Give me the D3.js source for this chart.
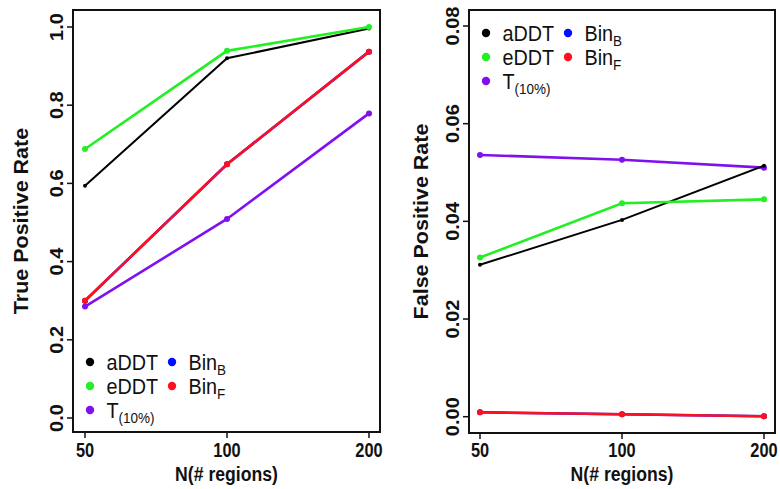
<!DOCTYPE html>
<html><head><meta charset="utf-8">
<script src="https://cdn.jsdelivr.net/npm/d3@7"></script>
<style>body{margin:0;background:#fff}text{font-family:"Liberation Sans",Arial,sans-serif;fill:#111}</style>
</head><body><svg id="c" width="780" height="489"></svg>
<script>
const categories = ["50","100","200"];
const seriesNames = ["aDDT","eDDT","T(10%)","BinB","BinF"];
const colors = {"aDDT":"#000000","eDDT":"#22f022","T(10%)":"#8010f0","BinB":"#0010ff","BinF":"#ff1020"};
// True positive rate
const tprADDT = [0.594, 0.920, 0.996];
const tprEDDT = [0.688, 0.939, 1.000];
const tprT10  = [0.285, 0.509, 0.779];
const tprBinB = [0.300, 0.649, 0.937];
const tprBinF = [0.300, 0.649, 0.937];
// False positive rate
const fprADDT = [0.0311, 0.0403, 0.0514];
const fprEDDT = [0.0326, 0.0437, 0.0445];
const fprT10  = [0.0536, 0.0526, 0.0510];
const fprBinB = [0.0009, 0.0005, 0.0001];
const fprBinF = [0.0009, 0.0005, 0.0001];
const tprTicks = [0, 0.2, 0.4, 0.6, 0.8, 1.0];
const fprTicks = [0, 0.02, 0.04, 0.06, 0.08];

const svg = d3.select("#c");
const SX = 0.84;

function panel(cfg){
  const g = svg.append("g");
  const x = d3.scalePoint().domain(categories).range([cfg.x0, cfg.x1]);
  const y = d3.scaleLinear().domain(cfg.ydom).range([cfg.y0, cfg.y1]);
  // box
  g.append("rect").attr("x",cfg.bx0).attr("y",cfg.by0).attr("width",cfg.bx1-cfg.bx0).attr("height",cfg.by1-cfg.by0)
    .attr("fill","none").attr("stroke","#111").attr("stroke-width",2);
  // y ticks
  cfg.yticks.forEach(t=>{
    g.append("line").attr("x1",cfg.bx0).attr("x2",cfg.bx0-6).attr("y1",y(t)).attr("y2",y(t)).attr("stroke","#111").attr("stroke-width",1.5);
    g.append("text").attr("transform",`translate(${cfg.bx0-10},${y(t)}) rotate(-90) scale(1,0.92)`)
      .attr("text-anchor","middle").attr("font-size",20).attr("font-weight","bold").text(cfg.fmt(t));
  });
  // x ticks
  categories.forEach(c=>{
    g.append("line").attr("x1",x(c)).attr("x2",x(c)).attr("y1",cfg.by1).attr("y2",cfg.by1+6).attr("stroke","#111").attr("stroke-width",1.5);
    g.append("text").attr("transform",`translate(${x(c)},457) scale(${SX},1)`)
      .attr("text-anchor","middle").attr("font-size",19.5).attr("font-weight","bold").text(c);
  });
  // axis titles
  g.append("text").attr("transform",`translate(${(cfg.bx0+cfg.bx1)/2},481) scale(${SX},1)`)
    .attr("text-anchor","middle").attr("font-size",21).attr("font-weight","bold").text("N(# regions)");
  g.append("text").attr("transform",`translate(${cfg.titleX},${(cfg.by0+cfg.by1)/2}) rotate(-90) scale(1,0.9)`)
    .attr("text-anchor","middle").attr("font-size",21.5).attr("font-weight","bold").text(cfg.ytitle);
  // series
  const line = d3.line().x((d,i)=>x(categories[i])).y(d=>y(d));
  cfg.series.forEach(s=>{
    const thin = s.name==="aDDT";
    g.append("path").datum(s.values).attr("d",line).attr("fill","none")
      .attr("stroke",colors[s.name]).attr("stroke-width",thin?2:2.6);
    g.selectAll(null).data(s.values).join("circle")
      .attr("cx",(d,i)=>x(categories[i])).attr("cy",d=>y(d)).attr("r",thin?2:3).attr("fill",colors[s.name]);
  });
  // legend
  const L = cfg.legend;
  const items = [
    {name:"aDDT",col:0,row:0,main:"aDDT",sub:""},
    {name:"eDDT",col:0,row:1,main:"eDDT",sub:""},
    {name:"T(10%)",col:0,row:2,main:"T",sub:"(10%)"},
    {name:"BinB",col:1,row:0,main:"Bin",sub:"B"},
    {name:"BinF",col:1,row:1,main:"Bin",sub:"F"}
  ];
  items.forEach(it=>{
    const dx = L.x + it.col*82, dy = L.y + it.row*24;
    g.append("circle").attr("cx",dx).attr("cy",dy).attr("r",4.2).attr("fill",colors[it.name]);
    const t = g.append("text").attr("transform",`translate(${dx+16.5},${dy+7.5}) scale(0.9,1)`)
      .attr("font-size",22);
    t.append("tspan").text(it.main);
    if(it.sub) t.append("tspan").attr("font-size",15).attr("dy",5).text(it.sub);
  });
}

panel({x0:85,x1:369,ydom:[0,1],y0:418,y1:27,bx0:73,bx1:380,by0:10,by1:432,
  yticks:tprTicks,fmt:d3.format(".1f"),ytitle:"True Positive Rate",titleX:28,
  series:[{name:"BinB",values:tprBinB},{name:"BinF",values:tprBinF},{name:"T(10%)",values:tprT10},{name:"aDDT",values:tprADDT},{name:"eDDT",values:tprEDDT}],
  legend:{x:90,y:362}});
panel({x0:480,x1:764,ydom:[0,0.08],y0:416.7,y1:26,bx0:469,bx1:775,by0:10,by1:433,
  yticks:fprTicks,fmt:d3.format(".2f"),ytitle:"False Positive Rate",titleX:428,
  series:[{name:"BinB",values:fprBinB},{name:"BinF",values:fprBinF},{name:"T(10%)",values:fprT10},{name:"aDDT",values:fprADDT},{name:"eDDT",values:fprEDDT}],
  legend:{x:486,y:33}});
</script></body></html>
